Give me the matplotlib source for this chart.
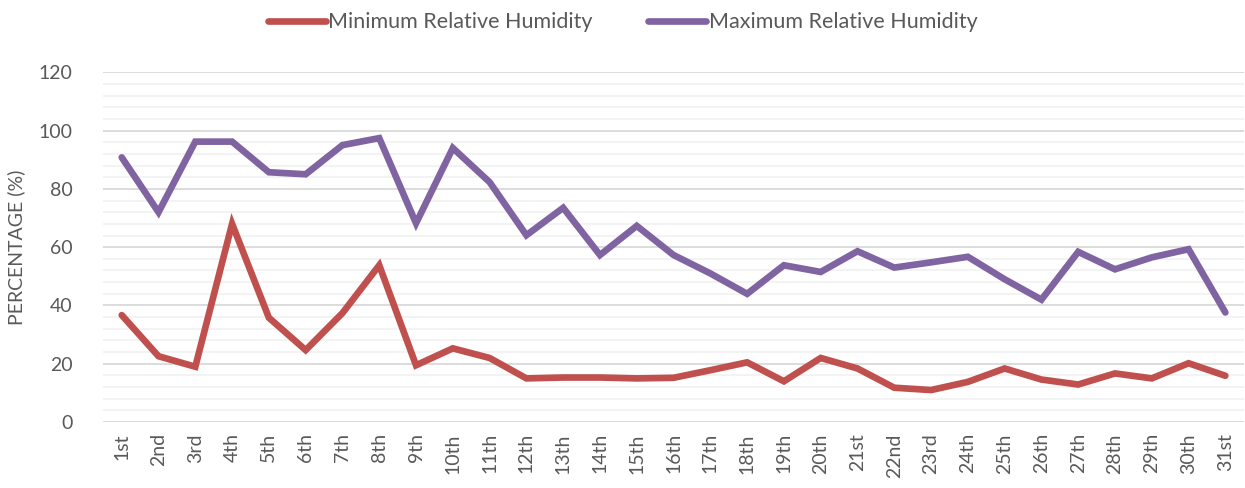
import matplotlib.pyplot as plt
from matplotlib.ticker import MultipleLocator

plt.rcParams['font.family'] = ['Lato', 'DejaVu Sans']

days = ['1st', '2nd', '3rd', '4th', '5th', '6th', '7th', '8th', '9th', '10th',
        '11th', '12th', '13th', '14th', '15th', '16th', '17th', '18th', '19th', '20th',
        '21st', '22nd', '23rd', '24th', '25th', '26th', '27th', '28th', '29th', '30th', '31st']

min_rh = [36.7, 22.6, 19.0, 68.0, 35.8, 24.7, 37.4, 53.8, 19.5, 25.3,
          22.0, 15.0, 15.3, 15.3, 15.0, 15.2, 17.8, 20.5, 14.0, 22.0,
          18.4, 11.8, 11.0, 13.8, 18.4, 14.6, 12.9, 16.7, 15.0, 20.2, 15.9]

max_rh = [90.8, 72.0, 96.2, 96.2, 85.7, 85.0, 95.0, 97.4, 68.2, 94.0,
          82.3, 64.1, 73.5, 57.3, 67.3, 57.3, 51.0, 44.0, 53.8, 51.5,
          58.6, 53.0, 54.8, 56.7, 49.0, 42.0, 58.4, 52.4, 56.5, 59.3, 37.6]

grey = '#595959'

fig = plt.figure(figsize=(12.45, 4.88), dpi=100)
ax = fig.add_axes([0.083, 0.135, 0.916, 0.717])

x = list(range(1, len(days) + 1))
ax.plot(x, min_rh, color='#C0504D', lw=4.8, solid_joinstyle='miter', solid_capstyle='round',
        label='Minimum Relative Humidity')
ax.plot(x, max_rh, color='#8064A2', lw=4.8, solid_joinstyle='miter', solid_capstyle='round',
        label='Maximum Relative Humidity')

ax.set_xlim(0.5, len(days) + 0.5)
ax.set_ylim(0, 120)
ax.yaxis.set_major_locator(MultipleLocator(20))
ax.yaxis.set_minor_locator(MultipleLocator(4))
ax.grid(which='major', axis='y', color='#D9D9D9', lw=1.3)
ax.grid(which='minor', axis='y', color='#F2F2F2', lw=1.3)
ax.set_axisbelow(True)

ax.set_xticks(x)
ax.set_xticklabels(days, rotation=90)
ax.tick_params(axis='both', which='both', length=0, colors=grey, labelsize=14)
ax.tick_params(axis='y', pad=22)
ax.tick_params(axis='x', pad=8)

for s in ax.spines.values():
    s.set_visible(False)

ax.set_ylabel('PERCENTAGE (%)', color=grey, fontsize=14, labelpad=10)

# legend sits centred on the figure, not the axes
leg = fig.legend(loc='upper center', bbox_to_anchor=(0.5, 1.015), ncol=2, frameon=False,
                 fontsize=15.5, handlelength=2.7, handletextpad=0.1, columnspacing=2.6)
for t in leg.get_texts():
    t.set_color(grey)

fig.savefig('out.png', dpi=100)
